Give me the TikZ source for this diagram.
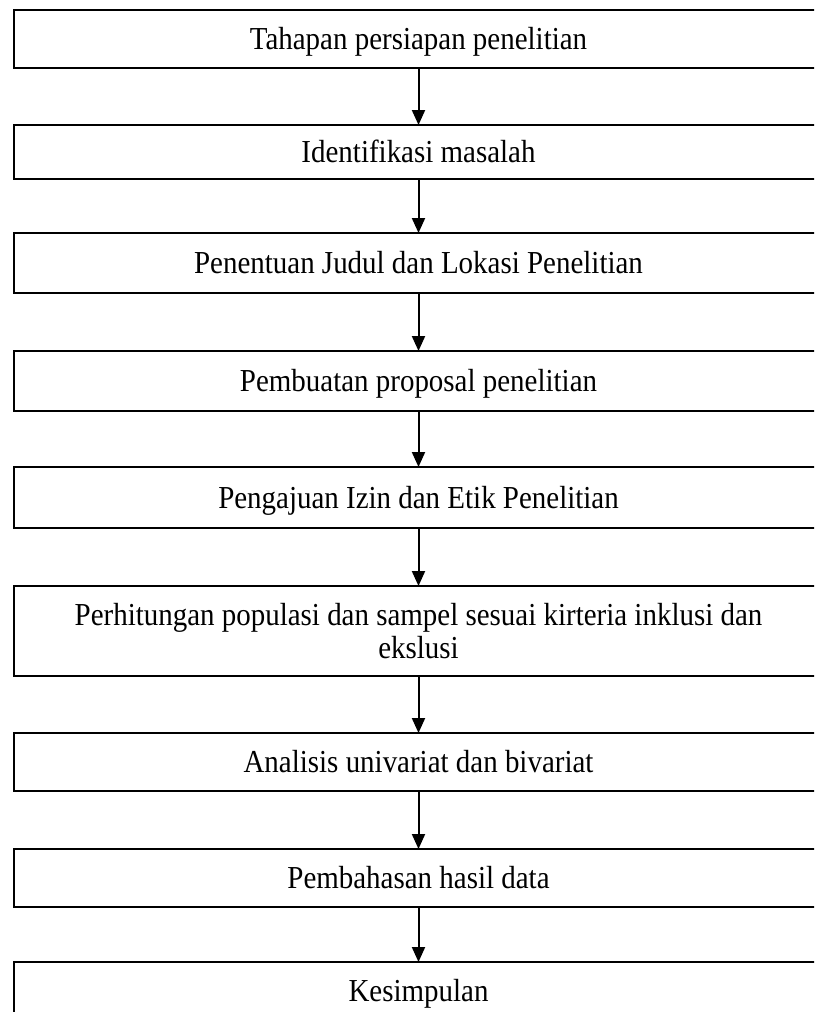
\documentclass[tikz,border=0pt]{standalone}
\usepackage{fontspec}
\setmainfont{Liberation Serif}
\newfontfamily\boxserif[FakeStretch=0.905]{Liberation Serif}
\usetikzlibrary{arrows.meta}
\tikzset{
  stepbox/.style={draw=black, line width=2pt, rectangle, outer sep=0pt, inner sep=0pt,
    minimum width=810pt, font=\boxserif\fontsize{32}{33}\selectfont, text height=26pt, text depth=5pt},
  stepboxwide/.style={draw=black, line width=2pt, rectangle, outer sep=0pt, inner sep=0pt,
    minimum width=810pt, font=\boxserif\fontsize{32}{33}\selectfont, align=center},
  flowarrow/.style={line width=2pt, -{Triangle[width=13pt,length=15pt]}}
}
\begin{document}
\begin{tikzpicture}[x=1pt,y=-1pt]
\path[use as bounding box] (0,0) rectangle (814,1012);
\clip (0,0) rectangle (814,1012);
\node[stepbox, minimum height=58pt] (b1) at (418.5,39) {Tahapan persiapan penelitian};
\node[stepbox, minimum height=54pt] (b2) at (418.5,152) {Identifikasi masalah};
\node[stepbox, minimum height=60pt] (b3) at (418.5,263) {Penentuan Judul dan Lokasi Penelitian};
\node[stepbox, minimum height=60pt] (b4) at (418.5,381) {Pembuatan proposal penelitian};
\node[stepbox, minimum height=61pt] (b5) at (418.5,497.5) {Pengajuan Izin dan Etik Penelitian};
\node[stepboxwide, minimum height=90pt] (b6) at (418.5,631) {Perhitungan populasi dan sampel sesuai kirteria inklusi dan\\ekslusi};
\node[stepbox, minimum height=58pt] (b7) at (418.5,762) {Analisis univariat dan bivariat};
\node[stepbox, minimum height=58pt] (b8) at (418.5,878) {Pembahasan hasil data};
\node[stepbox, minimum height=58pt] (b9) at (418.5,991) {Kesimpulan};
\draw[flowarrow] (b1.south) -- (b2.north);
\draw[flowarrow] (b2.south) -- (b3.north);
\draw[flowarrow] (b3.south) -- (b4.north);
\draw[flowarrow] (b4.south) -- (b5.north);
\draw[flowarrow] (b5.south) -- (b6.north);
\draw[flowarrow] (b6.south) -- (b7.north);
\draw[flowarrow] (b7.south) -- (b8.north);
\draw[flowarrow] (b8.south) -- (b9.north);
\end{tikzpicture}
\end{document}
